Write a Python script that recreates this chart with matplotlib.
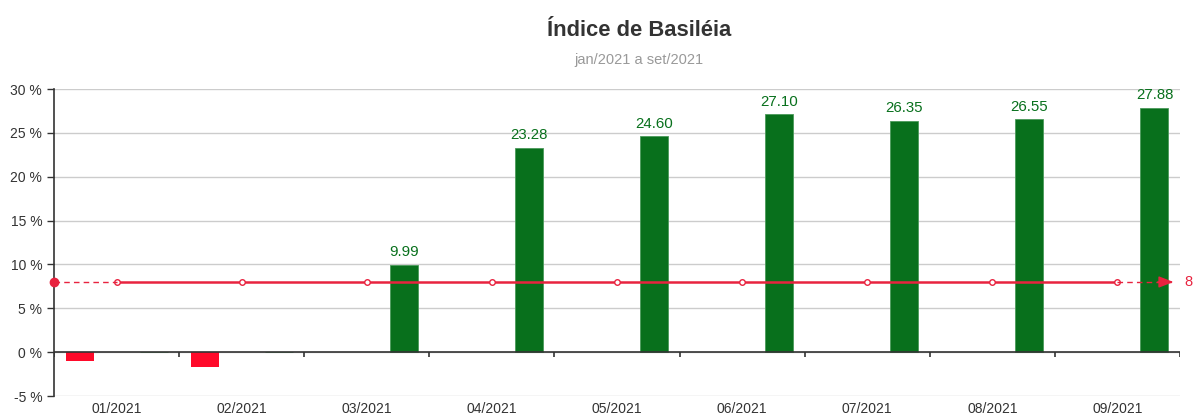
import numpy as np
import matplotlib.pyplot as plt

plt.rcParams["font.family"] = ["Liberation Sans", "DejaVu Sans"]

meses = ["01/2021", "02/2021", "03/2021", "04/2021", "05/2021",
         "06/2021", "07/2021", "08/2021", "09/2021"]
negativos = [-1.05, -1.72, 0, 0, 0, 0, 0, 0, 0]
positivos = [0, 0, 9.99, 23.28, 24.60, 27.10, 26.35, 26.55, 27.88]
minimo = 8
y_ticks = [-5, 0, 5, 10, 15, 20, 25, 30]

verde = "#08701c"
vermelho = "#ff0a2a"
linha = "#e8233f"

fig = plt.figure(figsize=(11.93, 4.19), dpi=100)
ax = fig.add_axes([54/1193, 23/419, 1126/1193, 307/419])

x = np.arange(len(meses))
w = 0.224
off = 0.296

ax.bar(x - off, negativos, w, color=vermelho, zorder=3)
bars = ax.bar(x + off, positivos, w, color=verde, edgecolor="#4a9a5a", linewidth=0.6, zorder=3)
for b, v in zip(bars, positivos):
    if v > 0:
        ax.annotate(f"{v:.2f}", (b.get_x() + b.get_width()/2, v), xytext=(0, 4),
                    textcoords="offset points", ha="center", va="bottom",
                    color=verde, fontsize=10.8)

# linha do minimo regulatorio
ax.plot(x, [minimo]*len(x), color=linha, lw=1.8, marker="o", ms=4,
        mfc="white", mec=linha, mew=1, zorder=4)
ax.plot([-0.5, 0], [minimo, minimo], color=linha, lw=1, ls=(0, (4, 3)), zorder=4, clip_on=False)
ax.plot([x[-1], 8.45], [minimo, minimo], color=linha, lw=1, ls=(0, (4, 3)), zorder=4, clip_on=False)
ax.plot([-0.5], [minimo], "o", color=linha, ms=6, zorder=5, clip_on=False)
ax.annotate("", xy=(8.47, minimo), xytext=(8.3, minimo),
            arrowprops=dict(arrowstyle="-|>,head_length=0.9,head_width=0.35",
                            color=linha, lw=1), zorder=5, annotation_clip=False)
ax.annotate(f"{minimo}", (8.5, minimo), xytext=(3, 0), textcoords="offset points",
            ha="left", va="center", color=linha, fontsize=10.5)

ax.set_xlim(-0.5, 8.5)
ax.set_ylim(-5, 30)
ax.set_yticks(y_ticks)
ax.set_yticklabels([f"{t} %" for t in y_ticks], color="#333333", fontsize=10)
ax.set_xticks(x)
ax.set_xticklabels(meses, color="#333333", fontsize=10)
ax.tick_params(axis="x", length=0, pad=4)
ax.tick_params(axis="y", length=5, color="#333333", width=1)
ax.grid(axis="y", color="#cccccc", lw=1, zorder=0)

ax.axhline(0, color="#333333", lw=1.2, zorder=3)
ax.vlines(np.arange(len(meses) + 1) - 0.5, -0.6, 0, color="#333333", lw=1.2, zorder=3)

for s in ["top", "right", "bottom"]:
    ax.spines[s].set_visible(False)
ax.spines["left"].set_color("#333333")
ax.spines["left"].set_linewidth(1.2)

fig.text(639/1193, 1 - 30/419, "Índice de Basiléia", ha="center", va="center",
         fontsize=15.8, fontweight="bold", color="#333333")
fig.text(639/1193, 1 - 60/419, "jan/2021 a set/2021", ha="center", va="center",
         fontsize=10.5, color="#999999")

fig.savefig("out.png", dpi=100)
